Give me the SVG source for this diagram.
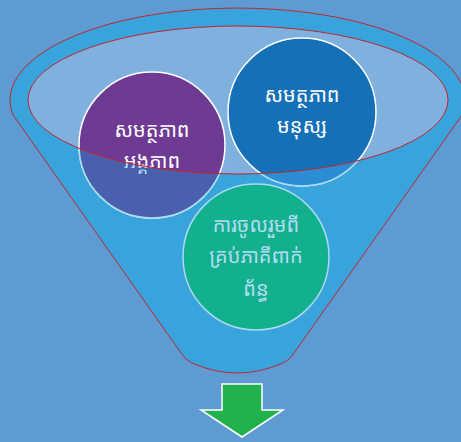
<svg xmlns="http://www.w3.org/2000/svg" width="461" height="442" viewBox="0 0 461 442">
<style>
.lbl{font-family:"Noto Sans Khmer","Khmer OS","Khmer OS System","Noto Sans","DejaVu Sans",sans-serif;font-size:20px;text-anchor:middle}
.top{fill:#ffffff}
.bot{fill:#b2dcf2}
.cs{stroke:#ffffff;stroke-width:1.5}
.cb{stroke:#a8d9f0;stroke-width:1.5}
.red{fill:none;stroke:#c3262e;stroke-width:1}
</style>
<defs>
<mask id="outside" maskUnits="userSpaceOnUse" x="0" y="0" width="461" height="442">
<rect x="0" y="0" width="461" height="442" fill="#fff"/>
<ellipse cx="238" cy="100" rx="210" ry="74" fill="#000"/>
</mask>
</defs>
<rect x="0" y="0" width="461" height="442" fill="#5f9bd3"/>
<g id="funnel">
<path d="M13,115 A227.5,92 0 1 1 462,115 L294,353 Q290,360 283,363 Q237.5,383 192,363 Q185,360 181,353 Z" fill="#39a3dc"/>
<ellipse cx="238" cy="100" rx="210" ry="74" fill="#7fb0de"/>
</g>
<g id="node-organisation">
<circle cx="152" cy="145" r="73" fill="#6f3a94" class="cs"/>
<text class="lbl top" x="152" y="137">សមត្ថភាព</text>
<text class="lbl top" x="152" y="168">អង្គភាព</text>
</g>
<g id="node-human">
<circle cx="302" cy="112" r="74" fill="#1570b8" class="cs"/>
<text class="lbl top" x="302" y="102">សមត្ថភាព</text>
<text class="lbl top" x="302" y="133">មនុស្ស</text>
</g>
<g id="front" mask="url(#outside)">
<circle cx="152" cy="145" r="73" fill="#4a5fad" class="cb"/>
<text class="lbl bot" x="152" y="137">សមត្ថភាព</text>
<text class="lbl bot" x="152" y="168">អង្គភាព</text>
<circle cx="302" cy="112" r="74" fill="#2b8dd4" class="cb"/>
</g>
<g id="node-participation">
<circle cx="256" cy="257" r="73" fill="#13b08e" class="cb"/>
<text class="lbl bot" x="256" y="232">ការចូលរួមពី</text>
<text class="lbl bot" x="256" y="263">គ្រប់ភាគីពាក់</text>
<text class="lbl bot" x="256" y="296">ព័ន្ធ</text>
</g>
<g id="connectors">
<path class="red" d="M13,115 A227.5,92 0 1 1 462,115 L294,353 Q290,360 283,363 Q237.5,383 192,363 Q185,360 181,353 Z"/>
<ellipse class="red" cx="238" cy="100" rx="210" ry="74"/>
</g>
<g id="arrow">
<path d="M222,384 L262,384 L262,410 L283,410 L242,437 L201,410 L222,410 Z" fill="#22b14c" stroke="#ffffff" stroke-width="1.5" stroke-linejoin="miter"/>
</g>
</svg>
